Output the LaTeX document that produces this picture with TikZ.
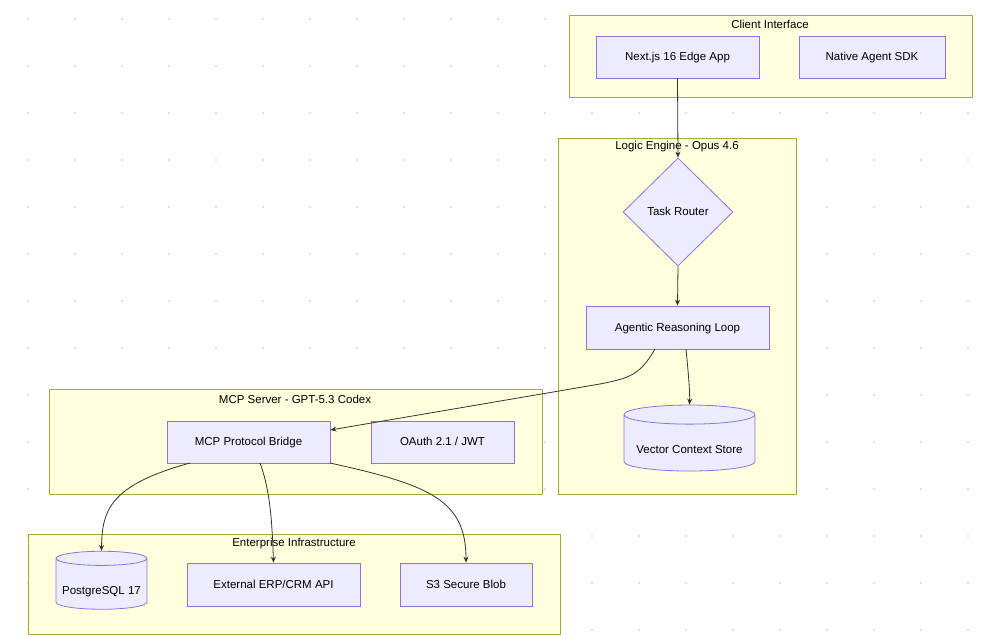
\documentclass[tikz,border=0pt]{standalone}
\usepackage{fontspec}
\setmainfont{Liberation Sans}
\usetikzlibrary{shapes.geometric,arrows.meta}
\definecolor{cfill}{HTML}{FFFFDE}\definecolor{cline}{HTML}{AAAA33}
\definecolor{nfill}{HTML}{ECECFF}\definecolor{nline}{HTML}{9370DB}
\definecolor{eline}{HTML}{333333}
\begin{document}
\begin{tikzpicture}[x=1pt,y=-1pt,
 cl/.style={draw=cline,fill=cfill,line width=0.8pt},
 ct/.style={font=\fontsize{11.5}{13}\selectfont,text=black},
 nd/.style={draw=nline,fill=nfill,line width=0.8pt,font=\fontsize{11.5}{13}\selectfont,inner sep=0pt,text height=8pt,text depth=1pt},
 bx/.style={nd,rectangle},
 cyl/.style={nd,cylinder,shape border rotate=90,aspect=0.18},
 ed/.style={draw=eline,line width=0.8pt,-{Stealth[length=6pt,width=5pt]}}]
\useasboundingbox (0,0) rectangle (983,639);
\fill[white] (0,0) rectangle (983,639);
\foreach \i in {0,...,20}{\foreach \j in {0,...,13}{\fill[black!12] (28+47*\i,19+47*\j) circle (1.4pt);}}
% clusters
\draw[cl] (569,15) rectangle (972,97); \node[ct] (t1) at (770,24) {Client Interface};
\draw[cl] (558,138) rectangle (796,494); \node[ct] (t2) at (677,147) {Logic Engine - Opus 4.6};
\draw[cl] (49,389) rectangle (542,494); \node[ct] (t3) at (295,399) {MCP Server - GPT-5.3 Codex};
\draw[cl] (28,534) rectangle (560,634); \node[ct] (t4) at (294,544) {Enterprise Infrastructure};
% nodes
\node[bx,minimum width=163pt,minimum height=42pt] (next) at (677.5,57) {Next.js 16 Edge App};
\node[bx,minimum width=146pt,minimum height=42pt] (sdk) at (872,57) {Native Agent SDK};
\node[nd,diamond,minimum width=110pt,minimum height=108pt] (router) at (678,212) {Task Router};
\node[bx,minimum width=183pt,minimum height=43pt] (loop) at (677.5,327.5) {Agentic Reasoning Loop};
\node[cyl,minimum width=131pt,minimum height=66pt] (vec) at (689.5,443) {\raisebox{-7pt}[0pt][0pt]{Vector Context Store}};
\node[bx,minimum width=163pt,minimum height=42pt] (bridge) at (248.5,442) {MCP Protocol Bridge};
\node[bx,minimum width=143pt,minimum height=42pt] (oauth) at (442.5,442) {OAuth 2.1 / JWT};
\node[cyl,minimum width=91pt,minimum height=58pt] (pg) at (101.5,584) {\raisebox{-7pt}[0pt][0pt]{PostgreSQL 17}};
\node[bx,minimum width=173pt,minimum height=43pt] (erp) at (273.5,584.5) {External ERP/CRM API};
\node[bx,minimum width=132pt,minimum height=43pt] (s3) at (466,584.5) {S3 Secure Blob};
% edges
\draw[ed] (next.south) -- (router.north);
\draw[ed] (router.south) -- (loop.north);
\draw[ed] (686,349) .. controls (688,370) and (690,390) .. (vec.north);
\draw[ed] (655,349) .. controls (640,375) and (630,378) .. (600,384) -- (bridge.north east|-0,430) ;
\draw[ed] (190,463) .. controls (110,485) and (102,510) .. (pg.north);
\draw[ed] (260,463) .. controls (270,490) and (272,520) .. (erp.north);
\draw[ed] (330,463) .. controls (430,485) and (466,500) .. (s3.north);
\end{tikzpicture}
\end{document}
